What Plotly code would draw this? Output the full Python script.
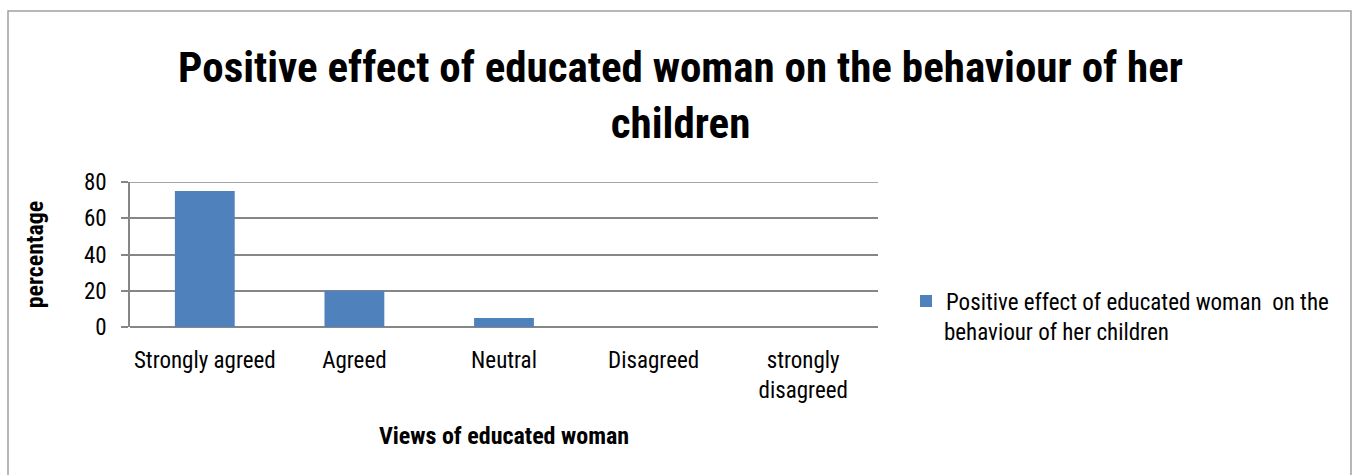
import plotly.graph_objects as go

categories = ["Strongly agreed", "Agreed", "Neutral", "Disagreed", "strongly<br>disagreed"]
values = [75, 20, 5, 0, 0]
series_name = "Positive effect of educated woman  on the"
series_name_line2 = "behaviour of her children"
title_text = "Positive effect of educated woman on the behaviour of her<br>children"
y_ticks = [0, 20, 40, 60, 80]

FONT = "Noto Sans ExtraCondensed, Noto Sans Condensed, Roboto Condensed, Open Sans Condensed, Roboto, sans-serif"

fig = go.Figure()
fig.add_trace(go.Bar(
    x=categories, y=values, name=series_name,
    marker=dict(color="#4F81BD", line=dict(width=0)),
    showlegend=True,
))

L, R, T, B = 130, 475, 182, 148
W, H = 1353, 475
pw = W - L - R
ph = H - T - B
GRID = "#868686"

fig.update_layout(
    width=W, height=H,
    margin=dict(l=L, r=R, t=T, b=B),
    paper_bgcolor="white", plot_bgcolor="white",
    font=dict(family=FONT, size=23, color="black"),
    bargap=0.6,
    title=dict(text=title_text, x=0.503, xanchor="center", y=1 - 82 / H, yanchor="middle",
               yref="container",
               font=dict(family=FONT, size=43, color="black", weight="bold")),
    xaxis=dict(showline=False, ticks="", showgrid=False,
               tickfont=dict(size=23), ticklabelstandoff=17,
               title=dict(text="<b>Views of educated woman</b>", font=dict(size=24), standoff=24)),
    yaxis=dict(range=[0, 80], tickvals=y_ticks, showline=True, linecolor=GRID, linewidth=1.5,
               ticks="outside", ticklen=7, tickcolor=GRID, tickwidth=1.5,
               showgrid=True, gridcolor=GRID, gridwidth=1.5, zeroline=True,
               zerolinecolor=GRID, zerolinewidth=1.5,
               tickfont=dict(size=23), ticklabelstandoff=10,
               title=dict(text="<b>percentage</b>", font=dict(size=24), standoff=34)),
    legend=dict(x=(906 - L) / pw, xanchor="left", y=(327 - 301) / ph, yanchor="middle",
                font=dict(size=23), itemsizing="constant", bgcolor="rgba(0,0,0,0)"),
    annotations=[dict(text=series_name_line2, xref="paper", yref="paper",
                      x=(942 - L) / pw, y=(327 - 332) / ph, xanchor="left", yanchor="middle",
                      showarrow=False, font=dict(size=23, color="black"))],
    shapes=[
        dict(type="rect", xref="paper", yref="paper",
             x0=(8 - L) / pw, x1=(1351 - L) / pw,
             y0=(327 - 490) / ph, y1=(327 - 11) / ph,
             line=dict(color="#A0A0A0", width=1.5), fillcolor="rgba(0,0,0,0)", layer="below"),
        dict(type="line", xref="paper", yref="y", x0=0, x1=1, y0=y_ticks[-1], y1=y_ticks[-1],
             line=dict(color=GRID, width=1.5), layer="below"),
    ],
)

fig.write_html("out.html")
